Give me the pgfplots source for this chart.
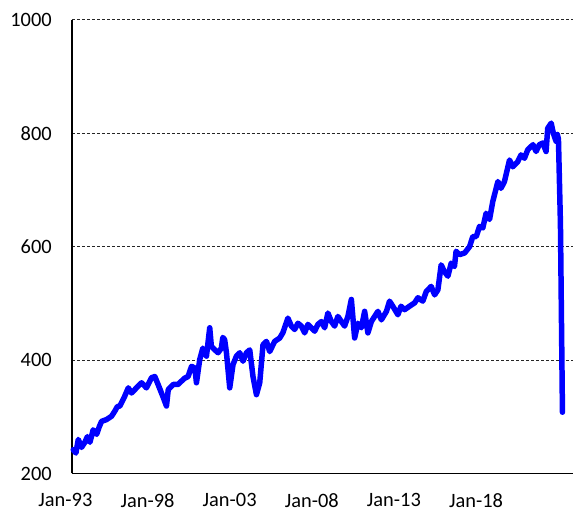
\documentclass[border=0pt]{standalone}
\usepackage{fontspec}
\setmainfont{Carlito}
\usepackage{pgfplots}
\pgfplotsset{compat=1.18}
\begin{document}
\begin{tikzpicture}
\begin{axis}[
  scale only axis,
  width=502bp, height=454bp,
  xmin=1993, xmax=2020.58,
  ymin=200, ymax=1000,
  axis x line*=bottom, axis y line*=left,
  axis line style={black, line width=1.3bp, -},
  ytick={200,400,600,800,1000},
  xtick={1993,1997.516,2002.033,2006.549,2011.066,2015.582},
  xticklabels={Jan-93,Jan-98,Jan-03,Jan-08,Jan-13,Jan-18},
  major tick length=0pt,
  ymajorgrids, xmajorgrids=false,
  major grid style={gray!30!black, line width=1bp, dash pattern=on 3bp off 2bp},
  tick label style={font=\fontsize{20.5}{23}\selectfont},
  /pgf/number format/assume math mode=true,
  /pgf/number format/1000 sep={},
  yticklabel style={inner sep=0pt, xshift=-20bp},
  xticklabel style={inner sep=0pt, yshift=-20bp, xshift=-6.5bp},
  clip=false,
]
\addplot[color={rgb,255:red,0;green,0;blue,255}, line width=5.5bp, line join=round, line cap=round] coordinates {
(1993.07,242) (1993.22,236) (1993.35,260) (1993.53,246) (1993.71,255) (1993.85,265) (1993.99,255)
(1994.17,277) (1994.36,269) (1994.50,282) (1994.63,292) (1994.90,295) (1995.18,301)
(1995.36,310) (1995.50,318) (1995.64,319) (1995.90,336) (1996.10,351) (1996.28,342)
(1996.55,351) (1996.83,360) (1997.10,351) (1997.38,369) (1997.56,371)
(1997.74,357) (1998.00,336) (1998.20,319) (1998.30,348) (1998.57,357)
(1998.84,357) (1999.03,363) (1999.20,368) (1999.39,371) (1999.58,389) (1999.76,386)
(1999.85,360) (2000.03,401) (2000.20,421) (2000.40,407) (2000.58,457)
(2000.67,424) (2000.86,418) (2001.04,413) (2001.22,421) (2001.30,440) (2001.40,436)
(2001.50,413) (2001.68,351) (2001.86,392) (2002.05,407) (2002.23,413)
(2002.41,398) (2002.60,413) (2002.78,418) (2002.96,371) (2003.15,339)
(2003.33,360) (2003.51,427) (2003.70,433) (2003.88,415) (2004.15,433)
(2004.43,439) (2004.60,448) (2004.88,474) (2005.07,460) (2005.25,454)
(2005.43,465) (2005.62,460) (2005.80,448) (2005.98,463) (2006.17,457)
(2006.35,451) (2006.53,463) (2006.72,468) (2006.90,457) (2007.08,483)
(2007.27,468) (2007.45,460) (2007.63,477) (2007.82,468) (2008.00,460)
(2008.18,477) (2008.37,507) (2008.55,439) (2008.73,465) (2008.92,457)
(2009.10,486) (2009.28,448) (2009.47,468) (2009.65,477) (2009.83,486)
(2010.02,471) (2010.30,486) (2010.47,504) (2010.65,495) (2010.93,480)
(2011.10,495) (2011.30,489) (2011.57,495) (2011.85,501) (2012.03,510)
(2012.30,504) (2012.49,521) (2012.76,530) (2012.95,515) (2013.13,524)
(2013.31,568) (2013.49,556) (2013.68,548) (2013.86,571) (2014.04,565)
(2014.13,592) (2014.32,586) (2014.60,589) (2014.87,600) (2015.05,618)
(2015.24,618) (2015.42,636) (2015.60,633) (2015.78,659) (2015.97,648)
(2016.15,680) (2016.43,715) (2016.60,703) (2016.79,715) (2017.07,753)
(2017.25,741) (2017.52,750) (2017.70,762) (2017.89,756) (2018.07,771)
(2018.36,780) (2018.53,768) (2018.71,780) (2018.90,783) (2019.08,768)
(2019.17,809) (2019.36,818) (2019.48,800) (2019.63,786) (2019.70,798)
(2019.76,790) (2019.87,640) (2019.98,308)
};
\end{axis}
\path ([shift={(-72bp,-38bp)}]current axis.south west) rectangle ([shift={(0bp,20bp)}]current axis.north east);
\end{tikzpicture}
\end{document}
